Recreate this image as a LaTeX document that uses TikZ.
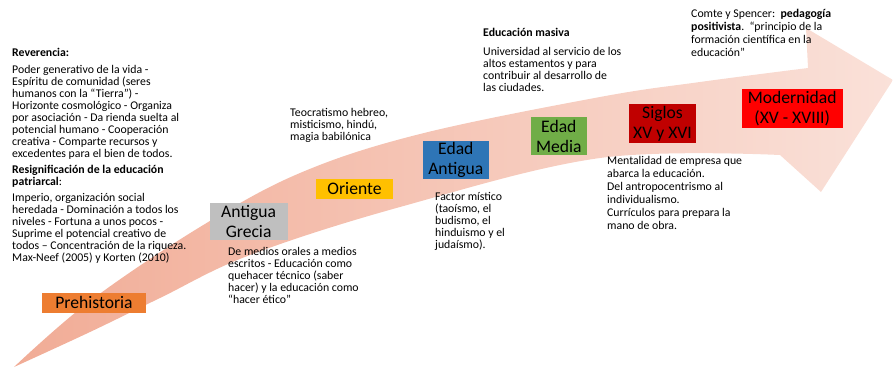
\documentclass[tikz,border=0pt]{standalone}
\usepackage{fontspec}
\setmainfont{Carlito}

\definecolor{arrowdeep}{RGB}{241,172,150}
\definecolor{arrowmid}{RGB}{248,214,204}
\definecolor{arrowlight}{RGB}{250,225,217}
\definecolor{prehistcol}{RGB}{237,125,49}
\definecolor{greciacol}{RGB}{191,191,191}
\definecolor{orientecol}{RGB}{255,192,0}
\definecolor{antiguacol}{RGB}{46,117,182}
\definecolor{mediacol}{RGB}{112,173,71}
\definecolor{sigloscol}{RGB}{192,0,0}
\definecolor{moderncol}{RGB}{255,0,0}

\tikzset{
  era/.style={rectangle, inner sep=0pt, align=center, text=black,
    font=\fontsize{17.6}{20}\selectfont},
  note/.style={anchor=north west, inner sep=0pt, align=left,
    font=\fontsize{11.8}{12}\selectfont},
}

\begin{document}
\begin{tikzpicture}[x=1pt,y=-1pt]
  \useasboundingbox (0,0) rectangle (893,367);

  % the big curved arrow
  \shade[left color=arrowdeep, middle color=arrowmid, right color=arrowlight]
    plot[smooth, tension=0.6] coordinates {(14,367) (90,301) (200,227) (300,173) (420,134) (600,97) (700,82) (808,68)}
    -- (806,28) -- (893,80) -- (821,192) -- (780,155)
    -- plot[smooth, tension=0.6] coordinates {(780,155) (600,158) (400,207) (250,255) (160,298) (90,332) (14,367)}
    -- cycle;

  % periods
  \node[era, fill=prehistcol, minimum width=104, minimum height=20] (prehistoria) at (94,302.5) {Prehistoria};
  \node[era, fill=greciacol, minimum width=78, minimum height=37] (grecia) at (248.6,221.5) {Antigua\\Grecia};
  \node[era, fill=orientecol, minimum width=77, minimum height=20] (oriente) at (354.5,189) {Oriente};
  \node[era, fill=antiguacol, minimum width=66, minimum height=38] (antigua) at (455.8,160) {Edad\\Antigua};
  \node[era, fill=mediacol, minimum width=56, minimum height=38] (media) at (558.8,136.2) {Edad\\Media};
  \node[era, fill=sigloscol, minimum width=67, minimum height=39] (siglos) at (662.5,123.4) {Siglos\\XV y XVI};
  \node[era, fill=moderncol, minimum width=101, minimum height=39] (modernidad) at (792.2,108.8) {Modernidad\\(XV - XVIII)};

  % notes
  \node[note] (reverencia) at (12,48) {\textbf{Reverencia:}\\[4.6pt]
    Poder generativo de la vida -\\
    Espíritu de comunidad (seres\\
    humanos con la “Tierra”) -\\
    Horizonte cosmológico - Organiza\\
    por asociación - Da rienda suelta al\\
    potencial humano - Cooperación\\
    creativa - Comparte recursos y\\
    excedentes para el bien de todos.\\[4pt]
    \textbf{Resignificación de la educación}\\
    \textbf{patriarcal}:\\[4.6pt]
    Imperio, organización social\\
    heredada - Dominación a todos los\\
    niveles - Fortuna a unos pocos -\\
    Suprime el potencial creativo de\\
    todos – Concentración de la riqueza.\\
    Max-Neef (2005) y Korten (2010)};
  \node[note] (grecianote) at (228,246.7) {De medios orales a medios\\
    escritos - Educación como\\
    quehacer técnico (saber\\
    hacer) y la educación como\\
    “hacer ético”};
  \node[note] (orientenote) at (290,108.5) {Teocratismo hebreo,\\
    misticismo, hindú,\\
    magia babilónica};
  \node[note] (antiguanote) at (435,192) {Factor místico\\
    (taoísmo, el\\
    budismo, el\\
    hinduismo y el\\
    judaísmo).};
  \node[note] (medianote) at (483,28.5) {\textbf{Educación masiva}\\[6.8pt]
    Universidad al servicio de los\\
    altos estamentos y para\\
    contribuir al desarrollo de\\
    las ciudades.};
  \node[note, font=\fontsize{11.8}{13}\selectfont] (siglosnote) at (607,155.7) {Mentalidad de empresa que\\
    abarca la educación.\\
    Del antropocentrismo al\\
    individualismo.\\
    Currículos para prepara la\\
    mano de obra.};
  \node[note, font=\fontsize{11.8}{13}\selectfont] (modernnote) at (691,9.5) {Comte y Spencer:\ \ \textbf{pedagogía}\\
    \textbf{positivista}.\ \ “principio de la\\
    formación científica en la\\
    educación”};
\end{tikzpicture}
\end{document}
